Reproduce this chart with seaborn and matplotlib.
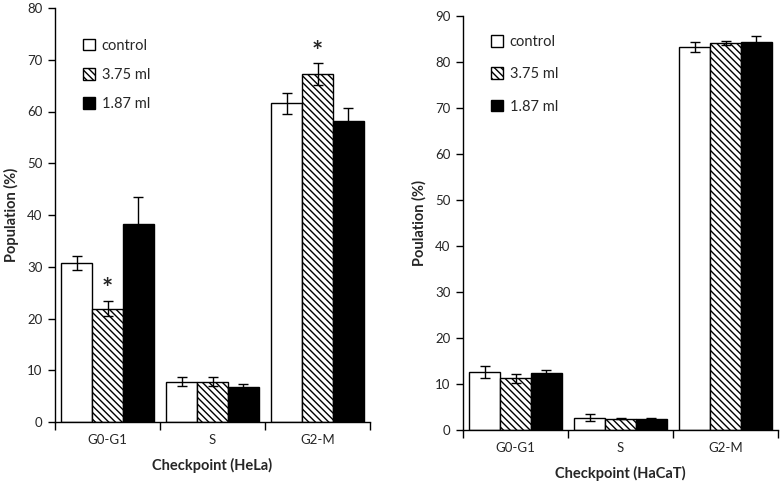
import numpy as np
import pandas as pd
import matplotlib
matplotlib.use("Agg")
import matplotlib.pyplot as plt
import seaborn as sns
from matplotlib.patches import Patch

sns.set_style("white")
plt.rcParams['font.family'] = ['Lato', 'DejaVu Sans']
plt.rcParams['hatch.linewidth'] = 1.0

phases = ["G0-G1", "S", "G2-M"]
treatments = ["control", "3.75 ml", "1.87 ml"]

hela_control = [30.7, 7.8, 61.6]
hela_375 = [21.9, 7.8, 67.2]
hela_187 = [38.3, 6.8, 58.2]
hela_control_err = [1.4, 0.85, 2.0]
hela_375_err = [1.5, 0.9, 2.1]
hela_187_err = [5.2, 0.5, 2.4]

hacat_control = [12.7, 2.7, 83.3]
hacat_375 = [11.2, 2.5, 84.1]
hacat_187 = [12.5, 2.5, 84.3]
hacat_control_err = [1.3, 0.8, 1.1]
hacat_375_err = [0.9, 0.2, 0.4]
hacat_187_err = [0.65, 0.2, 1.4]

hela_ymax, hela_step = 80, 10
hacat_ymax, hacat_step = 90, 10

HATCH = "\\" * 5


def make_df(vals, errs):
    rows = []
    for t, v, e in zip(treatments, vals, errs):
        for p, vv, ee in zip(phases, v, e):
            rows.append({"phase": p, "treatment": t, "value": vv, "err": ee})
    return pd.DataFrame(rows)


hela_df = make_df([hela_control, hela_375, hela_187],
                  [hela_control_err, hela_375_err, hela_187_err])
hacat_df = make_df([hacat_control, hacat_375, hacat_187],
                   [hacat_control_err, hacat_375_err, hacat_187_err])

fig = plt.figure(figsize=(7.8, 4.83), dpi=100)
ax1 = fig.add_axes([55 / 780, 61 / 483, 315 / 780, 414 / 483])
ax2 = fig.add_axes([463 / 780, 53 / 483, 315 / 780, 414 / 483])

palette = {"control": "white", "3.75 ml": "white", "1.87 ml": "black"}


def draw(ax, df, ymax, step, xlabel, ylabel, stars, leg_top, leg_space):
    sns.barplot(data=df, x="phase", y="value", hue="treatment",
                order=phases, hue_order=treatments, palette=palette,
                edgecolor="black", linewidth=1.0, width=0.885, gap=0,
                errorbar=None, legend=False, ax=ax)
    bar_containers = list(ax.containers)
    for ci, cont in enumerate(bar_containers):
        sub = df[df.treatment == treatments[ci]].set_index("phase").loc[phases]
        xs, ys = [], []
        for bar in cont:
            if ci == 1:
                bar.set_hatch(HATCH)
            xs.append(bar.get_x() + bar.get_width() / 2)
            ys.append(bar.get_height())
        ax.errorbar(xs, ys, yerr=sub["err"].values, fmt="none",
                    ecolor="black", elinewidth=1.0, capsize=3.3,
                    capthick=1.0, zorder=5)
        if ci == 1:
            for pi in stars:
                ax.text(xs[pi], ys[pi] + sub["err"].values[pi] + ymax * 0.028,
                        "*", ha="center", va="center", fontsize=19,
                        fontweight="bold")
    ax.set_ylim(0, ymax)
    ax.set_yticks(np.arange(0, ymax + 1, step))
    ax.set_xlim(-0.5, 2.5)
    ax.set_xticks([-0.5, 0.5, 1.5, 2.5])
    ax.set_xticklabels([])
    ax.set_xticks([0, 1, 2], minor=True)
    ax.set_xticklabels(phases, minor=True)
    ax.tick_params(axis="x", which="minor", length=0, pad=9, labelsize=9.5)
    ax.tick_params(axis="x", which="major", length=6, width=1,
                   direction="out", bottom=True, color="black")
    ax.tick_params(axis="y", length=5, width=1, direction="out", left=True,
                   labelsize=9.5, color="black", pad=4)
    for s in ["top", "right"]:
        ax.spines[s].set_visible(False)
    for s in ["left", "bottom"]:
        ax.spines[s].set_color("black")
        ax.spines[s].set_linewidth(1.0)
    ax.set_xlabel(xlabel, fontsize=10.5, fontweight="bold", labelpad=8)
    ax.set_ylabel(ylabel, fontsize=10.5, fontweight="bold", labelpad=6)

    handles = [Patch(facecolor="white", edgecolor="black", linewidth=1),
               Patch(facecolor="white", edgecolor="black", hatch=HATCH,
                     linewidth=1),
               Patch(facecolor="black", edgecolor="black", linewidth=1)]
    ax.legend(handles, treatments, loc="upper left",
              bbox_to_anchor=(0.07, leg_top), frameon=False, fontsize=10.5,
              handlelength=0.85, handleheight=0.85, handletextpad=0.45,
              labelspacing=leg_space, borderaxespad=0)


draw(ax1, hela_df, hela_ymax, hela_step, "Checkpoint (HeLa)",
     "Population (%)", stars=[0, 2], leg_top=0.94, leg_space=1.05)
draw(ax2, hacat_df, hacat_ymax, hacat_step, "Checkpoint (HaCaT)",
     "Poulation (%)", stars=[], leg_top=0.968, leg_space=1.25)

fig.savefig("out.png", dpi=100, facecolor="white")
